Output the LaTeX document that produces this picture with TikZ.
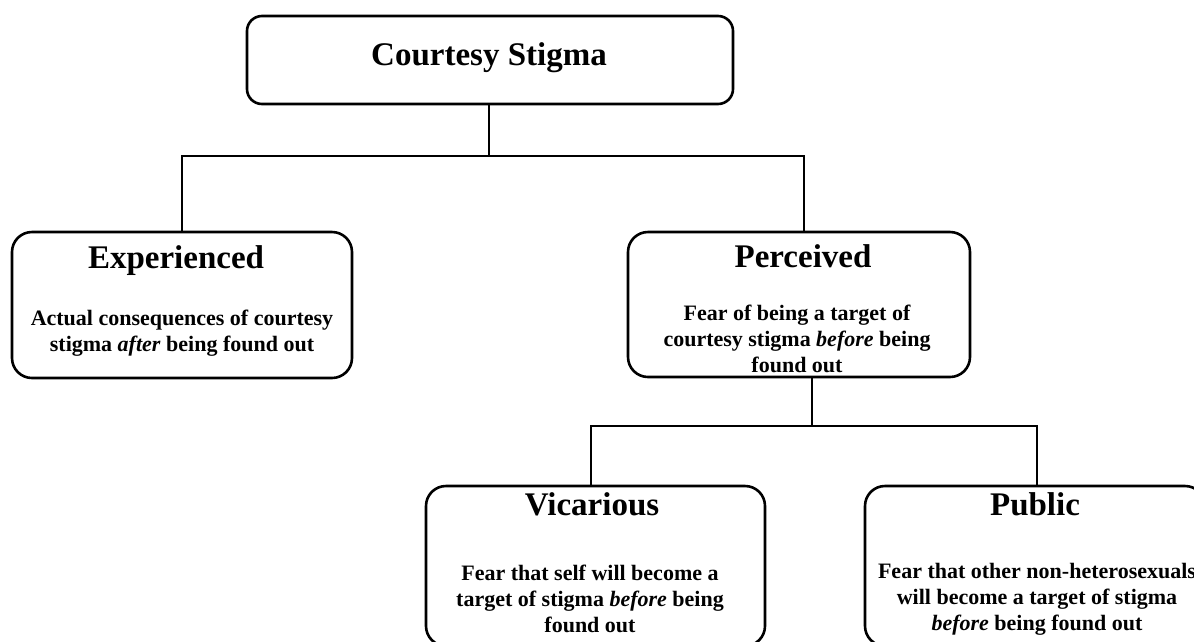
\documentclass[tikz,border=0pt]{standalone}
\usepackage{fontspec}
\setmainfont{Liberation Serif}
\newcommand{\bodylines}[1]{\setlength{\tabcolsep}{0pt}\begin{tabular}[t]{c}#1\end{tabular}}
\begin{document}
\begin{tikzpicture}[x=1pt,y=-1pt,
  box/.style={draw=black, line width=2.6pt, rounded corners=20pt, fill=white, inner sep=0pt},
  conn/.style={draw=black, line width=2.3pt},
  ttl/.style={font=\fontsize{33}{38}\selectfont\bfseries, anchor=base, inner sep=0pt},
  body/.style={font=\fontsize{22}{26}\selectfont\bfseries, anchor=base, inner sep=0pt}]
\useasboundingbox (0,0) rectangle (1194,641);
% boxes
\node[box, minimum width=486pt, minimum height=88pt, rounded corners=15pt] (top) at (490,60) {};
\node[box, minimum width=340pt, minimum height=146pt] (exp) at (182,305) {};
\node[box, minimum width=342pt, minimum height=145pt] (per) at (799,304.5) {};
\node[box, minimum width=339pt, minimum height=160pt] (vic) at (595.5,566) {};
\node[box, minimum width=340pt, minimum height=160pt] (pub) at (1035,566) {};
% junctions
\coordinate (b1) at (489,156);
\coordinate (b1l) at (182,156);
\coordinate (b1r) at (804,156);
\coordinate (b2) at (812,426);
\coordinate (b2l) at (591,426);
\coordinate (b2r) at (1037,426);
% connectors
\draw[conn] (top.south -| b1) -- (b1);
\draw[conn] (b1l |- exp.north) -- (b1l) -- (b1r) -- (b1r |- per.north);
\draw[conn] (per.south -| b2) -- (b2);
\draw[conn] (b2l |- vic.north) -- (b2l) -- (b2r) -- (b2r |- pub.north);
% texts
\node[ttl] (topt) at (489,65) {Courtesy Stigma};
\node[ttl] (expt) at (176,268) {Experienced};
\node[body] (expb) at (182,325) {\bodylines{Actual consequences of courtesy\\stigma \textit{after} being found out}};
\node[ttl] (pert) at (803,267) {Perceived};
\node[body] (perb) at (797,320) {\bodylines{Fear of being a target of\\courtesy stigma \textit{before} being\\found out}};
\node[ttl] (vict) at (592,515) {Vicarious};
\node[body] (vicb) at (590,580) {\bodylines{Fear that self will become a\\target of stigma \textit{before} being\\found out}};
\node[ttl] (pubt) at (1035,515) {Public};
\node[body] (pubb) at (1037,578) {\bodylines{Fear that other non-heterosexuals\\will become a target of stigma\\\textit{before} being found out}};
\end{tikzpicture}
\end{document}
